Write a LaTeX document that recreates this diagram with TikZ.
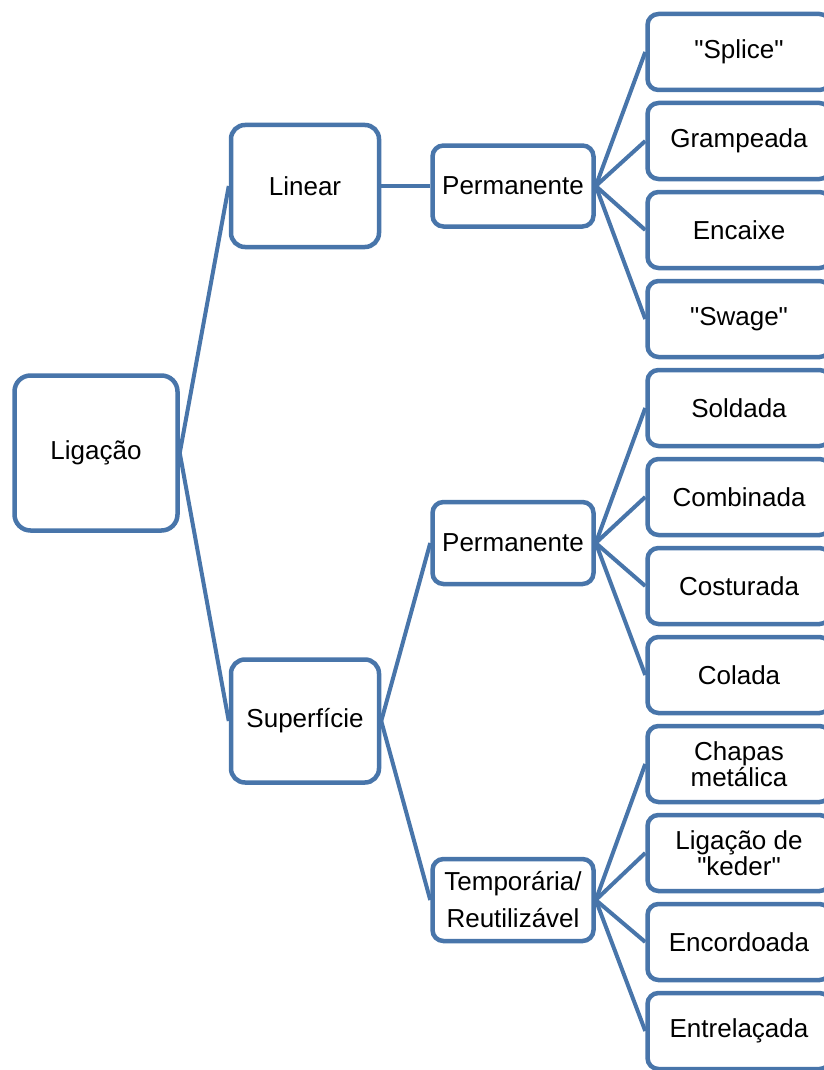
\documentclass[tikz,border=0pt]{standalone}
\usepackage{fontspec}
\setmainfont{Liberation Sans}
\usepackage{tikz}
\usetikzlibrary{positioning}
\definecolor{caixa}{RGB}{72,117,170}
\tikzset{
  bloco/.style={draw=caixa, line width=4.5pt, rectangle, rounded corners=11pt, fill=white,
    align=center, inner sep=0pt, font=\fontsize{26}{29}\selectfont},
  folha/.style={bloco, minimum width=183pt, minimum height=76pt},
  ramo/.style={draw=caixa, line width=4pt}
}
\begin{document}
\begin{tikzpicture}[x=1pt, y=-1pt]
    \useasboundingbox (0,0) rectangle (823,1070);

    % raiz e primeiro nivel
    \node[bloco, rounded corners=16pt, minimum width=163pt, minimum height=155pt] (lig) at (96,453) {Ligação};
    \node[bloco, rounded corners=14pt, minimum width=148pt, minimum height=122pt] (lin) at (305,186) {Linear};
    \node[bloco, rounded corners=14pt, minimum width=148pt, minimum height=123pt] (sup) at (305,721) {Superfície};

    % segundo nivel
    \node[bloco, minimum width=161pt, minimum height=81pt] (perm1) at (513,186) {Permanente};
    \node[bloco, minimum width=161pt, minimum height=82pt] (perm2) at (513,543) {Permanente};
    \node[bloco, minimum width=161pt, minimum height=82pt] (temp) at (513,900) {Temporária/\\[8pt]Reutilizável};

    % folhas
    \node[folha] (splice) at (739,52) {\textquotedbl Splice\textquotedbl};
    \node[folha] (gramp) at (739,141) {Grampeada};
    \node[folha] (encai) at (739,230) {Encaixe};
    \node[folha] (swage) at (739,319) {\textquotedbl Swage\textquotedbl};
    \node[folha] (sold) at (739,408) {Soldada};
    \node[folha] (comb) at (739,497) {Combinada};
    \node[folha] (cost) at (739,586) {Costurada};
    \node[folha] (cola) at (739,675) {Colada};
    \node[folha] (chapa) at (739,764) {Chapas\\[-3pt]metálica};
    \node[folha] (keder) at (739,853) {Ligação de\\[-3pt]\textquotedbl keder\textquotedbl};
    \node[folha] (encor) at (739,942) {Encordoada};
    \node[folha] (entre) at (739,1031) {Entrelaçada};

    \draw[ramo] (lig.east) -- (lin.west);
    \draw[ramo] (lig.east) -- (sup.west);
    \draw[ramo] (lin.east) -- (perm1.west);
    \draw[ramo] (sup.east) -- (perm2.west);
    \draw[ramo] (sup.east) -- (temp.west);
    \draw[ramo] (perm1.east) -- (splice.west);
    \draw[ramo] (perm1.east) -- (gramp.west);
    \draw[ramo] (perm1.east) -- (encai.west);
    \draw[ramo] (perm1.east) -- (swage.west);
    \draw[ramo] (perm2.east) -- (sold.west);
    \draw[ramo] (perm2.east) -- (comb.west);
    \draw[ramo] (perm2.east) -- (cost.west);
    \draw[ramo] (perm2.east) -- (cola.west);
    \draw[ramo] (temp.east) -- (chapa.west);
    \draw[ramo] (temp.east) -- (keder.west);
    \draw[ramo] (temp.east) -- (encor.west);
    \draw[ramo] (temp.east) -- (entre.west);
\end{tikzpicture}
\end{document}
